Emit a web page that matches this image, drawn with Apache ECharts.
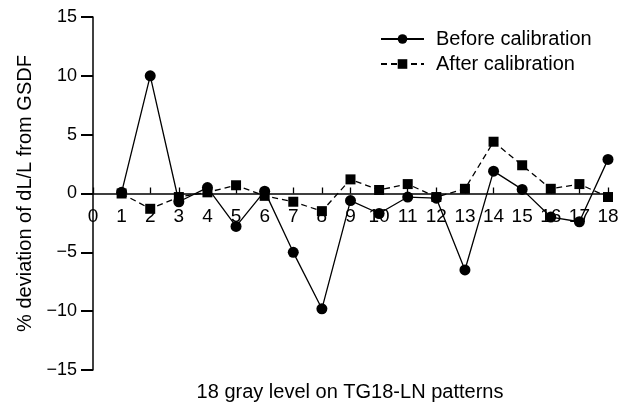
<!DOCTYPE html>
<html>
<head>
<meta charset="utf-8">
<script src="https://cdn.jsdelivr.net/npm/echarts@6/dist/echarts.min.js"></script>
<style>
  html, body { margin: 0; padding: 0; background: #fff; }
  #chart { width: 622px; height: 409px; }
</style>
</head>
<body>
<div id="chart"></div>
<script>
const grayLevels = [1, 2, 3, 4, 5, 6, 7, 8, 9, 10, 11, 12, 13, 14, 15, 16, 17, 18];
const beforeCal = [0.1, 10, -0.7, 0.5, -2.8, 0.2, -5, -9.8, -0.6, -1.7, -0.3, -0.4, -6.5, 1.9, 0.35, -2.0, -2.4, 2.9];
const afterCal = [0, -1.3, -0.3, 0.1, 0.7, -0.2, -0.7, -1.5, 1.2, 0.3, 0.8, -0.3, 0.4, 4.4, 2.4, 0.4, 0.8, -0.3];
const yTicks = [-15, -10, -5, 0, 5, 10, 15];

const font = "'Liberation Sans', Arial, sans-serif";
const gridTop = 17, gridHeight = 353;

const chart = echarts.init(document.getElementById("chart"));

function pairs(vals) {
  return grayLevels.map((x, i) => [x, vals[i]]);
}

// x axis sits on y = 0, which is the middle of the symmetric y range
const zeroOffset = -gridHeight * (0 - yTicks[0]) / (yTicks[yTicks.length - 1] - yTicks[0]);

const option = {
  animation: false,
  backgroundColor: "#fff",
  textStyle: { fontFamily: font, color: "#000" },
  grid: { left: 93, top: gridTop, width: 515, height: gridHeight },
  title: {
    text: "18 gray level on TG18-LN patterns",
    left: 350,
    top: 382,
    padding: 0,
    textAlign: "center",
    textStyle: { fontFamily: font, fontSize: 20, fontWeight: "normal", color: "#000" }
  },
  legend: {
    left: 380,
    top: 29,
    orient: "vertical",
    itemWidth: 43,
    itemHeight: 12,
    itemGap: 5,
    padding: 0,
    textStyle: { fontFamily: font, fontSize: 20, color: "#000", padding: [0, 0, 0, 7] },
    data: ["Before calibration", "After calibration"]
  },
  xAxis: {
    type: "value",
    position: "bottom",
    offset: zeroOffset,
    min: 0,
    max: 18,
    interval: 1,
    splitLine: { show: false },
    axisLine: { onZero: false, lineStyle: { color: "#000", width: 1.5 } },
    axisTick: { show: true, inside: true, length: 6, lineStyle: { color: "#000", width: 1.3 } },
    axisLabel: { fontFamily: font, fontSize: 19, color: "#000", margin: 14 }
  },
  yAxis: {
    type: "value",
    min: yTicks[0],
    max: yTicks[yTicks.length - 1],
    interval: 5,
    name: "% deviation of dL/L from GSDF",
    nameLocation: "middle",
    nameGap: 58,
    nameTextStyle: { fontFamily: font, fontSize: 20, color: "#000" },
    splitLine: { show: false },
    axisLine: { show: true, onZero: false, lineStyle: { color: "#000", width: 1.5 } },
    axisTick: { show: true, length: 12, lineStyle: { color: "#000", width: 2 } },
    axisLabel: {
      fontFamily: font, fontSize: 18, color: "#000", margin: 16,
      formatter: v => (v < 0 ? "\u2212" + Math.abs(v) : String(v))
    }
  },
  series: [
    {
      name: "Before calibration",
      type: "line",
      data: pairs(beforeCal),
      symbol: "circle",
      symbolSize: 11,
      itemStyle: { color: "#000" },
      lineStyle: { color: "#000", width: 1.3, type: "solid" },
      z: 3
    },
    {
      name: "After calibration",
      type: "line",
      data: pairs(afterCal),
      symbol: "rect",
      symbolSize: 10,
      itemStyle: { color: "#000" },
      lineStyle: { color: "#000", width: 1.3, type: [6, 4] },
      z: 2
    }
  ]
};

chart.setOption(option);
</script>
</body>
</html>
